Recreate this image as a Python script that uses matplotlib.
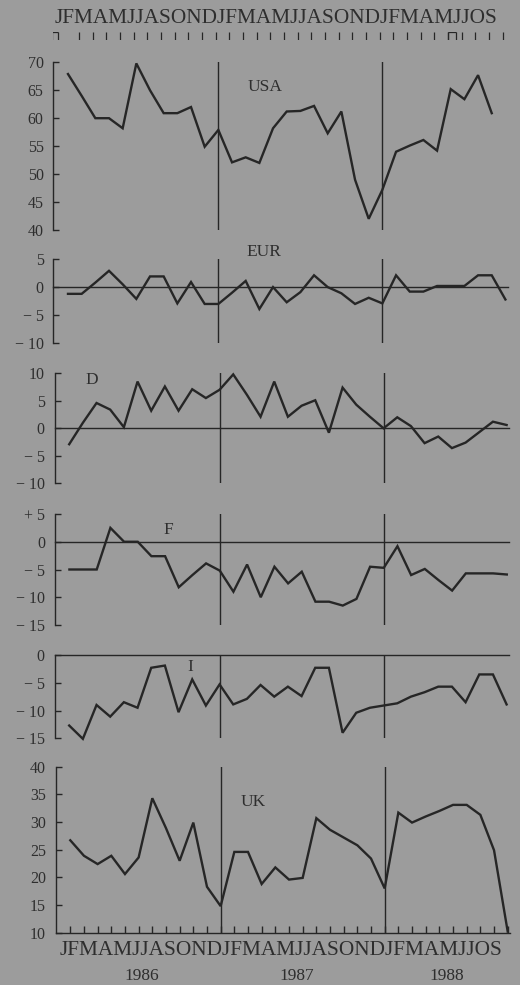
import numpy as np
import matplotlib
matplotlib.use("Agg")
import matplotlib.pyplot as plt

# ---------------- data ----------------
months = list("JFMAMJJASOND") + list("JFMAMJJASOND") + list("JFMAMJJOS")
years = ["1986", "1987", "1988"]

usa = [67.9, 64.0, 60.0, 60.0, 58.2, 69.8, 65.0, 60.9, 60.9, 62.0, 54.9, 57.9,
       52.1, 53.0, 52.0, 58.2, 61.2, 61.3, 62.2, 57.3, 61.2, 49.0, 42.0, 47.2,
       54.0, 55.1, 56.1, 54.2, 65.2, 63.4, 67.7, 60.9]
eur = [-1.2, -1.2, 0.8, 2.9, 0.5, -2.1, 1.9, 1.9, -2.9, 0.9, -3.0, -3.0,
       -1.0, 1.1, -3.9, 0.0, -2.7, -0.9, 2.1, 0.0, -1.1, -3.0, -1.9, -2.9,
       2.1, -0.8, -0.8, 0.2, 0.2, 0.2, 2.1, 2.1, -2.2]
d_ger = [-2.9, 1.0, 4.6, 3.4, 0.2, 8.5, 3.2, 7.6, 3.2, 7.1, 5.5, 7.0,
         9.8, 6.1, 2.1, 8.5, 2.1, 4.1, 5.1, -0.8, 7.4, 4.3, 2.1, 0.0,
         2.0, 0.4, -2.7, -1.5, -3.6, -2.6, -0.7, 1.2, 0.6]
f_fra = [-5.0, -5.0, -5.0, 2.5, 0.0, 0.0, -2.6, -2.6, -8.2, -6.0, -3.9, -5.2,
         -9.0, -4.1, -10.0, -4.5, -7.5, -5.4, -10.8, -10.8, -11.5, -10.3, -4.5, -4.7,
         -0.8, -6.0, -4.9, -6.9, -8.8, -5.7, -5.7, -5.7, -5.9]
i_ita = [-12.7, -15.1, -9.0, -11.1, -8.5, -9.5, -2.3, -1.9, -10.3, -4.4, -9.1, -5.3,
         -8.9, -7.9, -5.4, -7.5, -5.7, -7.4, -2.3, -2.3, -14.0, -10.4, -9.5, -9.1,
         -8.7, -7.5, -6.7, -5.7, -5.7, -8.5, -3.5, -3.5, -8.9]
uk = [26.7, 23.9, 22.4, 23.9, 20.6, 23.6, 34.3, 28.9, 23.0, 29.9, 18.3, 14.8,
      24.6, 24.6, 18.8, 21.8, 19.6, 19.9, 30.7, 28.6, 27.2, 25.8, 23.4, 18.0,
      31.7, 29.9, 31.0, 32.0, 33.1, 33.1, 31.3, 24.9, 10.2]

M = "\u2212 "
panels = [
    dict(name="USA", data=usa, ylim=(40, 70), ticks=[40, 45, 50, 55, 60, 65, 70],
         labels=["40", "45", "50", "55", "60", "65", "70"], zero=False),
    dict(name="EUR", data=eur, ylim=(-10, 5), ticks=[-10, -5, 0, 5],
         labels=[M + "10", M + "5", "0", "5"], zero=True),
    dict(name="D", data=d_ger, ylim=(-10, 10), ticks=[-10, -5, 0, 5, 10],
         labels=[M + "10", M + "5", "0", "5", "10"], zero=True),
    dict(name="F", data=f_fra, ylim=(-15, 5), ticks=[-15, -10, -5, 0, 5],
         labels=[M + "15", M + "10", M + "5", "0", "+ 5"], zero=True),
    dict(name="I", data=i_ita, ylim=(-15, 0), ticks=[-15, -10, -5, 0],
         labels=[M + "15", M + "10", M + "5", "0"], zero=True),
    dict(name="UK", data=uk, ylim=(10, 40), ticks=[10, 15, 20, 25, 30, 35, 40],
         labels=["10", "15", "20", "25", "30", "35", "40"], zero=False),
]

# ---------------- layout (pixels) ----------------
W, H = 520, 985
BG = "#9c9c9c"
INK = "#262626"
TXT = "#2e2e2e"
FAM = ["Liberation Serif", "DejaVu Serif"]
plt.rcParams["font.family"] = FAM

# (top, bottom, x-shift, label x, label y)
geom = [
    (62.3, 230.0, 0.0, 265, 87),
    (259.0, 343.3, 0.0, 264, 252),
    (373.3, 483.3, 1.2, 92, 380),
    (514.0, 625.0, 1.4, 168, 530),
    (655.0, 738.3, 1.2, 190, 667),
    (766.7, 932.7, 2.3, 253, 802),
]
LEFT, RIGHT = 53.3, 508.0
XLIM = (-1.075, 32.19)

fig = plt.figure(figsize=(W / 100, H / 100), dpi=100, facecolor=BG)


def px_axes(left, right, top, bottom):
    return fig.add_axes([left / W, 1 - bottom / H, (right - left) / W, (bottom - top) / H])


year_breaks = [12 * k - 1 for k in (1, 2)]

for p, (top, bot, dx, lx, ly) in zip(panels, geom):
    ax = px_axes(LEFT + dx, RIGHT + dx, top, bot)
    ax.set_facecolor("none")
    x = np.arange(len(p["data"]))
    ax.plot(x, p["data"], color=INK, lw=1.7, solid_joinstyle="miter", clip_on=False, zorder=3)
    ax.set_xlim(*XLIM)
    ax.set_ylim(*p["ylim"])
    for xb in year_breaks:
        ax.axvline(xb, color=INK, lw=1.0, zorder=2)
    if p["zero"]:
        ax.axhline(0, color=INK, lw=1.0, clip_on=False, zorder=2)
    for s in ["top", "right", "bottom"]:
        ax.spines[s].set_visible(False)
    ax.spines["left"].set_color(INK)
    ax.spines["left"].set_linewidth(1.0)
    ax.set_yticks(p["ticks"])
    ax.set_yticklabels(p["labels"])
    ax.tick_params(axis="y", direction="in", length=4, width=1.0, color=INK,
                   labelsize=11.5, labelcolor=TXT, pad=7)
    if p["name"] == "UK":
        ax.spines["bottom"].set_visible(True)
        ax.spines["bottom"].set_color(INK)
        ax.spines["bottom"].set_linewidth(1.0)
        ax.set_xticks(np.arange(len(months)))
        ax.tick_params(axis="x", direction="in", length=5, width=1.0, color=INK,
                       labelbottom=False)
    else:
        ax.set_xticks([])
    fig.text(lx / W, 1 - ly / H, p["name"], fontsize=12.5, color=TXT,
             ha="center", va="center")

# top tick row
tax = px_axes(LEFT, RIGHT, 32.5, 39.5)
tax.set_xlim(*XLIM)
tax.set_ylim(0, 1)
tax.axis("off")
tpos = np.arange(len(months) - 1) + 0.8
tax.vlines(tpos, 0, 1, color=INK, lw=0.9)
for a, b in [(-1.15, -0.72), (27.8, 28.35)]:
    tax.vlines([a, b], 0, 1, color=INK, lw=0.9)
    tax.hlines(1, a, b, color=INK, lw=0.9)

# month letter strings
mstr = "".join(months)


def fit_text(x0, x1, ybase, s, fs):
    t = fig.text(x0 / W, 1 - ybase / H, s, fontsize=fs, color=TXT,
                 ha="left", va="baseline")
    fig.canvas.draw()
    bb = t.get_window_extent()
    t.set_fontsize(fs * (x1 - x0) / bb.width)
    return t


fit_text(55, 502, 23.3, mstr, 14)
fit_text(60, 507, 955, mstr, 14)

for yl, xp in zip(years, [142, 297, 447]):
    fig.text(xp / W, 1 - 980.5 / H, yl, fontsize=12.5, color=TXT, ha="center", va="baseline")

fig.savefig("out.png", dpi=100, facecolor=BG)
